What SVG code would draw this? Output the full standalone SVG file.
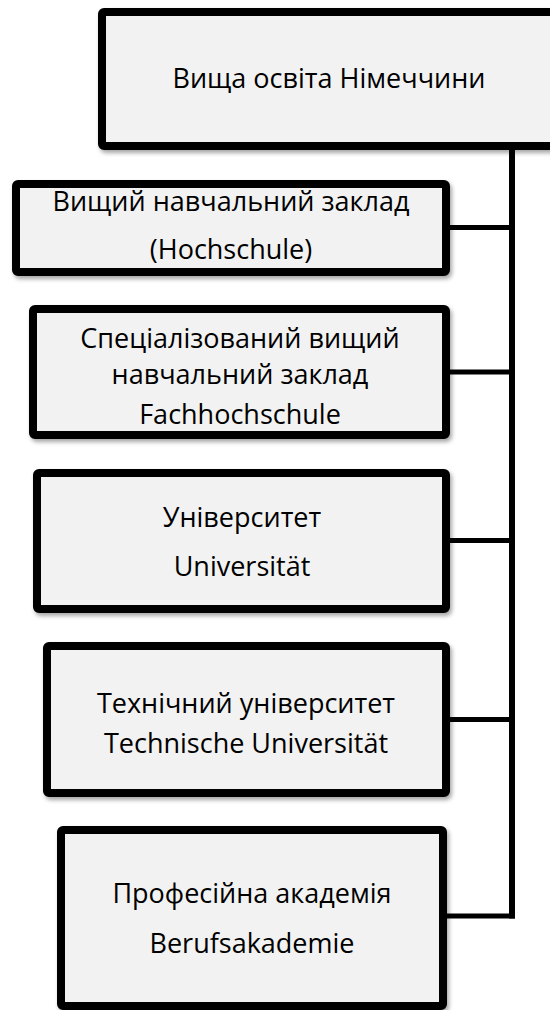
<svg xmlns="http://www.w3.org/2000/svg" width="550" height="1010" viewBox="0 0 550 1010">
  <defs>
    <filter id="shadow" x="-5%" y="-5%" width="115%" height="120%">
      <feDropShadow dx="2" dy="3" stdDeviation="2" flood-color="#000" flood-opacity="0.35"/>
    </filter>
    <style>
      .box { fill: #f2f2f2; stroke: #000; stroke-width: 8; filter: url(#shadow); }
      .lbl { font-family: "Open Sans", "Noto Sans", sans-serif; font-size: 27px; fill: #000; text-anchor: middle; }
      .trunk { stroke: #000; stroke-width: 6; fill: none; }
      .branch { stroke: #000; stroke-width: 5; fill: none; }
    </style>
  </defs>
  <rect width="550" height="1010" fill="#fff"/>

  <!-- connectors: trunk down the right side, branches to each institution type -->
  <g id="connectors">
    <line class="trunk" x1="512" y1="148" x2="512" y2="918.5"/>
    <line class="branch" x1="448" y1="227.5" x2="512" y2="227.5"/>
    <line class="branch" x1="448" y1="372" x2="512" y2="372"/>
    <line class="branch" x1="448" y1="540.5" x2="512" y2="540.5"/>
    <line class="branch" x1="448" y1="719.5" x2="512" y2="719.5"/>
    <line class="branch" x1="445" y1="916" x2="515" y2="916"/>
  </g>

  <g id="root">
    <rect class="box" x="102" y="12" width="454" height="134" rx="2"/>
    <text class="lbl" x="329" y="88">Вища освіта Німеччини</text>
  </g>

  <g id="hochschule">
    <rect class="box" x="16" y="184" width="430" height="88" rx="2"/>
    <text class="lbl" x="231" y="211">Вищий навчальний заклад</text>
    <text class="lbl" x="231" y="259">(Hochschule)</text>
  </g>

  <g id="fachhochschule">
    <rect class="box" x="33" y="309" width="413" height="126" rx="2"/>
    <text class="lbl" x="240" y="348">Спеціалізований вищий</text>
    <text class="lbl" x="240" y="384">навчальний заклад</text>
    <text class="lbl" x="240" y="424">Fachhochschule</text>
  </g>

  <g id="universitaet">
    <rect class="box" x="37" y="473" width="409" height="136" rx="2"/>
    <text class="lbl" x="242" y="527">Університет</text>
    <text class="lbl" x="242" y="576">Universität</text>
  </g>

  <g id="technische-universitaet">
    <rect class="box" x="47" y="646" width="399" height="147" rx="2"/>
    <text class="lbl" x="246" y="713">Технічний університет</text>
    <text class="lbl" x="246" y="753">Technische Universität</text>
  </g>

  <g id="berufsakademie">
    <rect class="box" x="61" y="830" width="382" height="176" rx="2"/>
    <text class="lbl" x="252" y="903">Професійна академія</text>
    <text class="lbl" x="252" y="953">Berufsakademie</text>
  </g>
</svg>
